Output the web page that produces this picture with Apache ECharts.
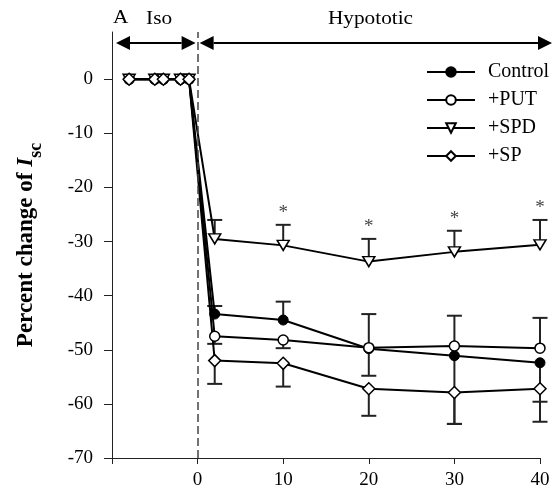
<!DOCTYPE html>
<html>
<head>
<meta charset="utf-8">
<script src="https://cdn.jsdelivr.net/npm/echarts@6/dist/echarts.min.js"></script>
<style>
  html, body { margin: 0; padding: 0; background: #fff; }
  #chart { width: 556px; height: 502px; }
</style>
</head>
<body>
<div id="chart"></div>
<script>
// Time points (min): isotonic baseline, then hypotonic challenge
const isoX = [-8, -5, -4, -2, -1];
const hypoX = [2, 10, 20, 30, 40];

// Percent change of Isc during hypotonic phase
const control = [-43.4, -44.5, -49.8, -51.1, -52.4];
const put     = [-47.5, -48.2, -49.6, -49.3, -49.7];
const spd     = [-29.5, -30.7, -33.7, -31.9, -30.6];
const sp      = [-52.0, -52.5, -57.2, -57.9, -57.2];

// Ends of the error bars (null = bar not drawn in that direction)
const controlErrUp   = [-41.9, -41.1, null, null, null];
const controlErrDown = [null, null, -54.8, -63.7, -59.6];
const putErrUp       = [null, null, -43.4, -43.7, -44.1];
const putErrDown     = [-48.9, -49.7, null, null, null];
const spdErrUp       = [-26.0, -26.9, -29.5, -28.0, -26.0];
const spErrDown      = [-56.3, -56.8, -62.2, -63.7, -63.3];

// Significance marks for +SPD
const spdSignificant = [false, true, true, true, true];

const yTicks = [-70, -60, -50, -40, -30, -20, -10, 0];
const FONT = 'Liberation Serif';

function seriesData(vals) {
  return isoX.map(x => [x, 0]).concat(hypoX.map((x, i) => [x, vals[i]]));
}

const errBars = [];
[[control, controlErrUp], [control, controlErrDown], [put, putErrUp], [put, putErrDown],
 [spd, spdErrUp], [sp, spErrDown]].forEach(([vals, ends]) => {
  ends.forEach((e, i) => { if (e !== null) errBars.push([hypoX[i], vals[i], e]); });
});

const sigMarks = [];
spdSignificant.forEach((s, i) => { if (s) sigMarks.push([hypoX[i], spdErrUp[i]]); });

const chart = echarts.init(document.getElementById('chart'), null, { renderer: 'canvas' });

const lineStyle = { color: '#000', width: 2 };
const openItem = { color: '#fff', borderColor: '#000', borderWidth: 1.5 };

chart.setOption({
  animation: false,
  backgroundColor: '#fff',
  grid: { left: 112, right: 16, top: 32, bottom: 44, containLabel: false },
  legend: {
    orient: 'vertical',
    left: 426,
    top: 62,
    padding: 0,
    itemWidth: 48,
    itemHeight: 12,
    itemGap: 8,
    textStyle: { fontFamily: FONT, fontSize: 20, color: '#000', padding: [0, 0, 0, 8] },
    data: ['Control', '+PUT', '+SPD', '+SP']
  },
  xAxis: {
    type: 'value',
    min: -10, max: 40, interval: 10,
    axisLine: { onZero: false, lineStyle: { color: '#222', width: 1 } },
    axisTick: { inside: false, length: 6, lineStyle: { color: '#222' } },
    axisLabel: {
      margin: 13, fontFamily: FONT, fontSize: 19, color: '#000',
      formatter: v => (v < 0 ? '' : String(v))
    },
    splitLine: { show: false }
  },
  yAxis: {
    type: 'value',
    min: -70, max: 8.74, interval: 10,
    axisLine: { show: true, onZero: false, lineStyle: { color: '#222', width: 1 } },
    axisTick: { show: true, length: 8, customValues: yTicks, lineStyle: { color: '#222' } },
    axisLabel: { margin: 19, fontFamily: FONT, fontSize: 19, color: '#000', customValues: yTicks },
    splitLine: { show: false },
    name: '{b|Percent change of }{i|I}{s|sc}',
    nameLocation: 'middle',
    nameGap: 67,
    nameTextStyle: {
      rich: {
        b: { fontFamily: FONT, fontSize: 23, fontWeight: 'bold', color: '#000', lineHeight: 25, verticalAlign: 'top' },
        i: { fontFamily: FONT, fontSize: 23, fontWeight: 'bold', fontStyle: 'italic', color: '#000', lineHeight: 25, verticalAlign: 'top' },
        s: { fontFamily: FONT, fontSize: 18, fontWeight: 'bold', color: '#000', lineHeight: 30, verticalAlign: 'bottom' }
      }
    }
  },
  series: [
    {
      type: 'custom',
      name: 'errors',
      z: 1,
      silent: true,
      data: errBars,
      renderItem: function (params, api) {
        const x = api.value(0);
        const p0 = api.coord([x, api.value(1)]);
        const p1 = api.coord([x, api.value(2)]);
        const half = 7.5;
        return {
          type: 'group',
          children: [
            { type: 'line', shape: { x1: p0[0], y1: p0[1], x2: p1[0], y2: p1[1] }, style: { stroke: '#222', lineWidth: 2 } },
            { type: 'line', shape: { x1: p1[0] - half, y1: p1[1], x2: p1[0] + half, y2: p1[1] }, style: { stroke: '#222', lineWidth: 2 } }
          ]
        };
      }
    },
    {
      type: 'custom',
      name: 'significance',
      z: 1,
      silent: true,
      data: sigMarks,
      renderItem: function (params, api) {
        const p = api.coord([api.value(0), api.value(1)]);
        return {
          type: 'text',
          x: p[0], y: p[1] - 2,
          style: { text: '*', fontFamily: FONT, fontSize: 19, fill: '#444', align: 'center', verticalAlign: 'bottom' }
        };
      }
    },
    {
      name: 'Control', type: 'line', z: 3,
      data: seriesData(control),
      symbol: 'circle', symbolSize: 10,
      itemStyle: { color: '#000', borderColor: '#000', borderWidth: 1 },
      lineStyle: lineStyle,
      markLine: {
        silent: true, symbol: 'none', animation: false,
        label: { show: false },
        lineStyle: { color: '#444', type: [8, 4], width: 1.5 },
        data: [{ xAxis: 0 }]
      }
    },
    {
      name: '+PUT', type: 'line', z: 3,
      data: seriesData(put),
      symbol: 'circle', symbolSize: 10,
      itemStyle: openItem, lineStyle: lineStyle
    },
    {
      name: '+SPD', type: 'line', z: 3,
      data: seriesData(spd),
      symbol: 'triangle', symbolRotate: 180, symbolSize: [12, 10],
      itemStyle: openItem, lineStyle: lineStyle
    },
    {
      name: '+SP', type: 'line', z: 3,
      data: seriesData(sp),
      symbol: 'diamond', symbolSize: 12,
      itemStyle: openItem, lineStyle: lineStyle
    }
  ]
});

// Phase annotations above the plot: Iso / Hypototic arrows
function px(x, y) { return chart.convertToPixel({ gridIndex: 0 }, [x, y]); }
const yArrow = 43;
const xStart = px(-10, 0)[0];
const xSwitch = px(0, 0)[0];
const xEnd = px(41.4, 0)[0];
const head = 14, headHalf = 7;

function arrow(x1, x2) {
  return [
    { type: 'line', shape: { x1: x1 + head, y1: yArrow, x2: x2 - head, y2: yArrow }, style: { stroke: '#000', lineWidth: 2 } },
    { type: 'polygon', shape: { points: [[x1, yArrow], [x1 + head, yArrow - headHalf], [x1 + head, yArrow + headHalf]] }, style: { fill: '#000' } },
    { type: 'polygon', shape: { points: [[x2, yArrow], [x2 - head, yArrow - headHalf], [x2 - head, yArrow + headHalf]] }, style: { fill: '#000' } }
  ];
}

const textStyle = { fontFamily: FONT, fontSize: 19, fill: '#000', align: 'center', verticalAlign: 'middle' };
chart.setOption({
  graphic: [].concat(
    arrow(xStart + 4, xSwitch - 2),
    arrow(xSwitch + 2, xEnd),
    [
      { type: 'text', x: px(-9, 0)[0], y: 18, scaleX: 1.12, style: Object.assign({ text: 'A' }, textStyle) },
      { type: 'text', x: px(-4.5, 0)[0], y: 19, scaleX: 1.12, style: Object.assign({ text: 'Iso' }, textStyle) },
      { type: 'text', x: px(20.2, 0)[0], y: 19, scaleX: 1.12, style: Object.assign({ text: 'Hypototic' }, textStyle) }
    ]
  )
});
</script>
</body>
</html>
